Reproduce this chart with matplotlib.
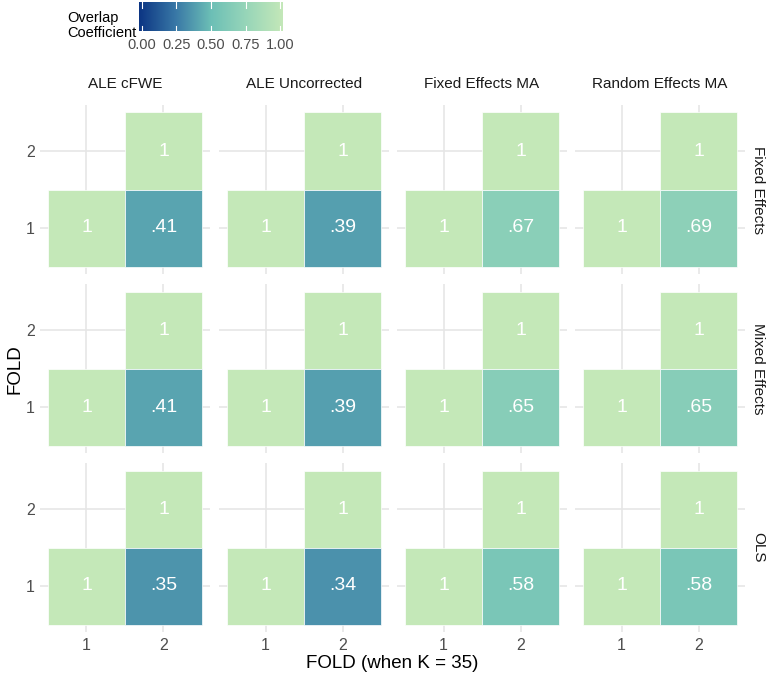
import matplotlib
matplotlib.use("Agg")
import matplotlib.pyplot as plt
import numpy as np
from matplotlib.colors import LinearSegmentedColormap, Normalize

plt.rcParams['font.family'] = ['Liberation Sans', 'DejaVu Sans']

methods = ["ALE cFWE", "ALE Uncorrected", "Fixed Effects MA", "Random Effects MA"]
models = ["Fixed Effects", "Mixed Effects", "OLS"]
folds = [1, 2]
# overlap between fold 2 (x) and fold 1 (y) for each model x method
cross_overlap = {
    "Fixed Effects": [0.41, 0.39, 0.67, 0.69],
    "Mixed Effects": [0.41, 0.39, 0.65, 0.65],
    "OLS": [0.35, 0.34, 0.58, 0.58],
}
self_overlap = 1.0

cmap = LinearSegmentedColormap.from_list(
    "overlap",
    [(0.0, "#0c3583"), (0.25, "#3877a6"), (0.5, "#6cbfb6"),
     (0.75, "#98d6b9"), (1.0, "#c4e8b8")])
norm = Normalize(0, 1)

W, H = 767, 679
fig = plt.figure(figsize=(W / 100, H / 100), dpi=100)

def px_axes(x0, y0, x1, y1):
    return fig.add_axes([x0 / W, 1 - y1 / H, (x1 - x0) / W, (y1 - y0) / H])

def fmt(v):
    if v == 1:
        return "1"
    return ("%.2f" % v).lstrip("0")

col_x = [40.3, 219.3, 397.3, 575.3]
row_y = [104.8, 283.8, 462.8]
pw, ph = 169.4, 169.4

for r, model in enumerate(models):
    for c, method in enumerate(methods):
        ax = px_axes(col_x[c], row_y[r], col_x[c] + pw, row_y[r] + ph)
        ax.set_xlim(0.4, 2.6)
        ax.set_ylim(0.4, 2.6)
        for f in folds:
            ax.axvline(f, color="#e6e6e6", lw=1.2, zorder=0)
            ax.axhline(f, color="#e6e6e6", lw=1.2, zorder=0)
        cells = [(1, 1, self_overlap), (2, 2, self_overlap),
                 (2, 1, cross_overlap[model][c])]
        for x, y, v in cells:
            ax.add_patch(plt.Rectangle((x - 0.5, y - 0.5), 1, 1,
                                       facecolor=cmap(norm(v)),
                                       edgecolor="white", lw=0.5, zorder=2))
            ax.text(x, y, fmt(v), color="white", fontsize=14,
                    ha="center", va="center", zorder=3)
        for s in ax.spines.values():
            s.set_visible(False)
        ax.tick_params(length=0, labelsize=11.5, colors="#4d4d4d", pad=4)
        ax.set_xticks(folds)
        ax.set_yticks(folds)
        if c != 0:
            ax.set_yticklabels([])
        if r != len(models) - 1:
            ax.set_xticklabels([])
        if r == 0:
            ax.set_title(method, fontsize=11, color="#1a1a1a", pad=12)
        if c == len(methods) - 1:
            ax.text(1.04, 0.5, model, transform=ax.transAxes, rotation=-90,
                    fontsize=11, color="#1a1a1a", ha="left", va="center")

fig.text(392.5 / W, 1 - 663 / H, "FOLD (when K = 35)", fontsize=13.5,
         ha="center", va="center", color="black")
fig.text(15 / W, 1 - 369 / H, "FOLD", fontsize=13.5, rotation=90,
         ha="center", va="center", color="black")

# colour bar legend
cax = px_axes(139.3, 2, 282.7, 31.5)
grad = np.linspace(0, 1, 256).reshape(1, -1)
cax.imshow(grad, cmap=cmap, norm=norm, aspect="auto",
           extent=(-0.0175, 1.0175, 0, 1))
cax.set_xlim(-0.0175, 1.0175)
cax.set_ylim(0, 1)
for t in [0, 0.25, 0.5, 0.75, 1.0]:
    cax.plot([t, t], [0, 0.2], color="white", lw=0.8)
    cax.plot([t, t], [0.8, 1], color="white", lw=0.8)
cax.set_xticks([0, 0.25, 0.5, 0.75, 1.0])
cax.set_xticklabels(["0.00", "0.25", "0.50", "0.75", "1.00"])
cax.tick_params(length=0, labelsize=10.5, colors="#4d4d4d", pad=5)
cax.set_yticks([])
for s in cax.spines.values():
    s.set_visible(False)
fig.text(67 / W, 1 - 11 / H, "Overlap\nCoefficient", fontsize=10.5,
         ha="left", va="top", color="black", linespacing=1.05)

fig.savefig("out.png", dpi=100)
